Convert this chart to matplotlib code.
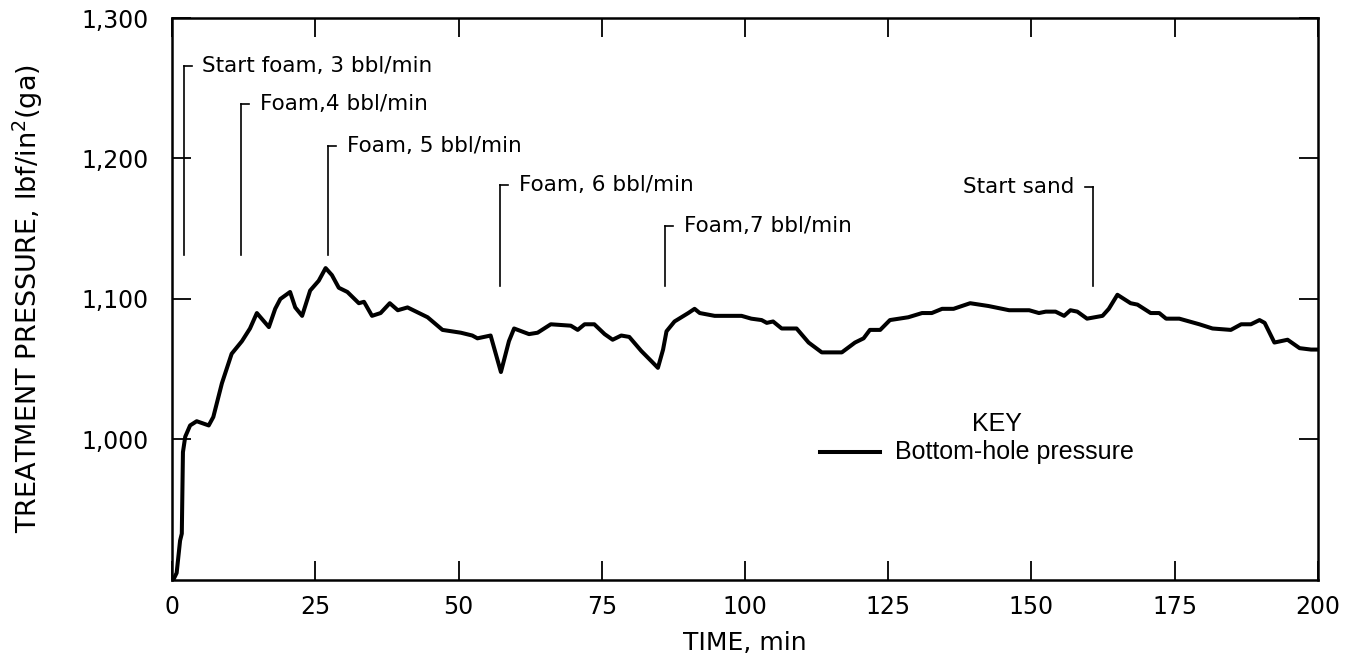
import matplotlib
matplotlib.use("Agg")
import matplotlib.pyplot as plt

# ---- data ----
time_min = [0.2, 0.8, 1.4, 1.7, 1.9, 2.3, 3.15, 4.3, 6.4, 7.2, 8.7, 10.4, 12.2, 13.6, 14.8,
            16.9, 18.0, 18.9, 20.6, 21.5, 22.7, 24.1, 25.6, 26.8, 27.9, 29.1, 30.6, 32.6,
            33.5, 34.9, 36.4, 38.0, 39.4, 41.1, 44.6, 47.2, 50.4, 52.4, 53.3, 55.6, 57.4,
            58.8, 59.7, 62.3, 63.8, 66.1, 69.6, 70.8, 72.0, 73.7, 75.5, 76.9, 78.4, 79.8,
            81.9, 83.6, 84.8, 85.7, 86.3, 87.7, 90.1, 91.2, 92.1, 94.7, 99.4, 101.1, 102.9,
            103.8, 104.9, 106.4, 109.0, 111.1, 113.4, 116.9, 119.2, 120.7, 121.8, 123.6,
            125.3, 128.5, 130.9, 132.6, 134.4, 136.4, 139.3, 142.5, 146.1, 149.6, 151.3,
            152.5, 154.2, 155.7, 156.8, 158.0, 159.7, 162.4, 163.5, 165.0, 167.3, 168.5,
            170.8, 172.3, 173.5, 175.8, 179.3, 181.6, 184.8, 186.6, 188.3, 189.8, 190.7,
            192.4, 194.7, 196.8, 198.8, 200.0]
pressure = [900, 905, 928, 933, 991, 1002, 1010, 1013, 1010, 1016, 1040, 1061, 1070, 1079, 1090,
            1080, 1093, 1100, 1105, 1094, 1088, 1106, 1113, 1122, 1117, 1108, 1105, 1097,
            1098, 1088, 1090, 1097, 1092, 1094, 1087, 1078, 1076, 1074, 1072, 1074, 1048,
            1070, 1079, 1075, 1076, 1082, 1081, 1078, 1082, 1082, 1075, 1071, 1074, 1073,
            1063, 1056, 1051, 1064, 1077, 1084, 1090, 1093, 1090, 1088, 1088, 1086, 1085,
            1083, 1084, 1079, 1079, 1069, 1062, 1062, 1069, 1072, 1078, 1078,
            1085, 1087, 1090, 1090, 1093, 1093, 1097, 1095, 1092, 1092, 1090,
            1091, 1091, 1088, 1092, 1091, 1086, 1088, 1093, 1103, 1097, 1096,
            1090, 1090, 1086, 1086, 1082, 1079, 1078, 1082, 1082, 1085, 1083,
            1069, 1071, 1065, 1064, 1064]

x_ticks = [0, 25, 50, 75, 100, 125, 150, 175, 200]
x_tick_labels = ["0", "25", "50", "75", "100", "125", "150", "175", "200"]
y_ticks = [1000, 1100, 1200, 1300]
y_tick_labels = ["1,000", "1,100", "1,200", "1,300"]

ann_time = [2.0, 12.0, 27.3, 57.2, 86.0, 160.8]
ann_top = [1266, 1239, 1209, 1181, 1152, 1180]
ann_bottom = [1131, 1131, 1131, 1109, 1109, 1109]
ann_text = ["Start foam, 3 bbl/min", "Foam,4 bbl/min", "Foam, 5 bbl/min",
            "Foam, 6 bbl/min", "Foam,7 bbl/min", "Start sand"]
ann_side = [1, 1, 1, 1, 1, -1]

# ---- figure ----
fig = plt.figure(figsize=(13.58, 6.62), dpi=100)
ax = fig.add_axes([0.1267, 0.1239, 0.8438, 0.8489])

ax.plot(time_min, pressure, color="black", lw=2.9, solid_joinstyle="round",
        solid_capstyle="round")

for t, top, bot, txt, side in zip(ann_time, ann_top, ann_bottom, ann_text, ann_side):
    ax.plot([t, t], [bot, top], color="black", lw=1.2)
    ax.plot([t, t + side * 1.4], [top, top], color="black", lw=1.2)
    ax.text(t + side * 3.3, top, txt, ha="left" if side > 0 else "right",
            va="center", fontsize=15.5, family="DejaVu Sans")

ax.set_xlim(0, 200)
ax.set_ylim(900, 1300)
ax.set_xticks(x_ticks)
ax.set_xticklabels(x_tick_labels)
ax.set_yticks(y_ticks)
ax.set_yticklabels(y_tick_labels)
ax.tick_params(direction="in", length=14, width=1.3, top=True, right=True,
               labelsize=17)
ax.tick_params(axis="y", pad=17)
ax.tick_params(axis="x", pad=11)
for sp in ax.spines.values():
    sp.set_linewidth(1.8)

ax.set_xlabel("TIME, min", fontsize=18)
ax.xaxis.set_label_coords(0.5, -0.09)
ax.set_ylabel(r"TREATMENT PRESSURE, lbf/in$^{2}$(ga)", fontsize=19.5)
ax.yaxis.set_label_coords(-0.111, 0.5)

# legend (key)
ax.text(144, 1011, "KEY", ha="center", va="center", fontsize=18, family="Liberation Sans")
ax.plot([113.1, 123.6], [991, 991], color="black", lw=2.9)
ax.text(126.2, 991, "Bottom-hole pressure", ha="left", va="center", fontsize=18,
        family="Liberation Sans")

fig.savefig("out.png", dpi=100)
